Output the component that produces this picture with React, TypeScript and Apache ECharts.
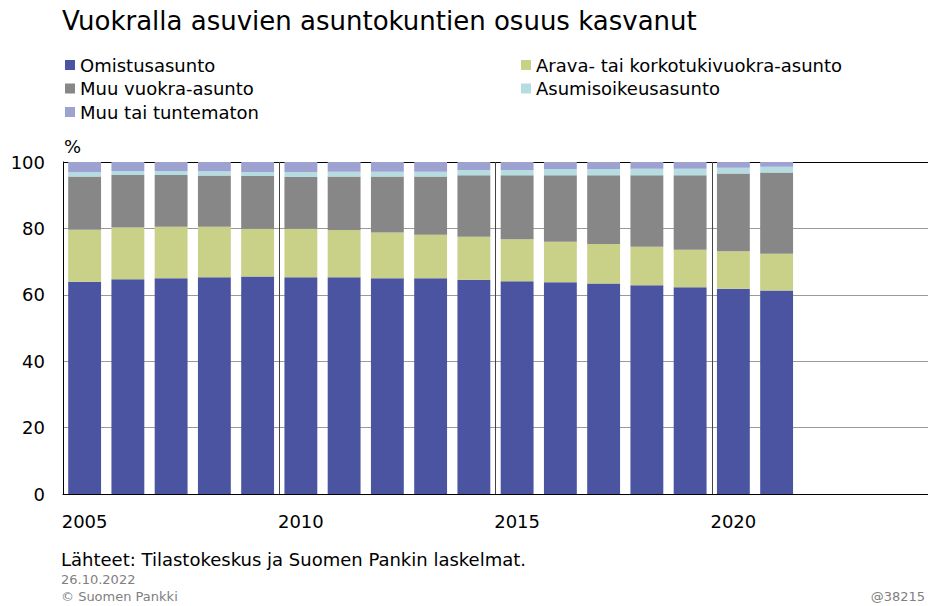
import React, { useEffect, useRef } from "react";
import * as echarts from "echarts";

const years = ["2005","2006","2007","2008","2009","2010","2011","2012","2013","2014","2015","2016","2017","2018","2019","2020","2021","2022","2023","2024"];
const omistus = [63.9, 64.7, 65.0, 65.3, 65.5, 65.3, 65.3, 65.0, 65.0, 64.5, 64.1, 63.8, 63.4, 62.9, 62.3, 61.8, 61.3];
const arava = [15.7, 15.6, 15.5, 15.2, 14.4, 14.6, 14.2, 13.8, 13.1, 13.0, 12.6, 12.2, 11.9, 11.6, 11.3, 11.3, 11.1];
const muuVuokra = [16.0, 15.8, 15.6, 15.4, 15.9, 15.6, 16.1, 16.8, 17.5, 18.5, 19.3, 20.0, 20.7, 21.5, 22.4, 23.4, 24.4];
const asumisoikeus = [1.3, 1.2, 1.2, 1.3, 1.2, 1.5, 1.5, 1.5, 1.5, 1.6, 1.6, 1.9, 1.9, 2.0, 2.0, 1.8, 1.8];
const muuTai = [3.1, 2.7, 2.7, 2.8, 3.0, 3.0, 2.9, 2.9, 2.9, 2.4, 2.4, 2.1, 2.1, 2.0, 2.0, 1.7, 1.4];
const yTicks = [0, 20, 40, 60, 80, 100];

const seriesNames = ["Omistusasunto", "Arava- tai korkotukivuokra-asunto", "Muu vuokra-asunto", "Asumisoikeusasunto", "Muu tai tuntematon"];
const seriesData = [omistus, arava, muuVuokra, asumisoikeus, muuTai];
const colors = ["#4B54A0", "#C8D187", "#878787", "#B5DDE1", "#9DA2D1"];

const FONT = "DejaVu Sans, Liberation Sans, sans-serif";

export default function App() {
  const ref = useRef<HTMLDivElement>(null);
  useEffect(() => {
    if (!ref.current) return;
    const chart = echarts.init(ref.current, null, { renderer: "svg" });
    const legendText = { fontSize: 18, color: "#000", fontFamily: FONT, lineHeight: 20 };
    chart.setOption({
      animation: false,
      textStyle: { fontFamily: FONT },
      color: colors,
      grid: { left: 63, right: 0, top: 162, bottom: 112, containLabel: false },
      legend: [
        {
          left: 65, top: 55, padding: 0, orient: "vertical", itemWidth: 10, itemHeight: 10, itemGap: 3.5,
          icon: "rect", textStyle: legendText, selectedMode: false,
          data: [seriesNames[0], seriesNames[2], seriesNames[4]],
        },
        {
          left: 521, top: 55, padding: 0, orient: "vertical", itemWidth: 10, itemHeight: 10, itemGap: 3.5,
          icon: "rect", textStyle: legendText, selectedMode: false,
          data: [seriesNames[1], seriesNames[3]],
        },
      ],
      xAxis: {
        type: "category",
        data: years,
        boundaryGap: true,
        axisLine: { show: true, lineStyle: { color: "#000", width: 1 } },
        axisTick: { show: false },
        axisLabel: { interval: 4, fontSize: 18, color: "#000", margin: 18, fontFamily: FONT },
        splitLine: { show: true, interval: 4, lineStyle: { color: "#444", width: 1 } },
      },
      yAxis: {
        type: "value",
        min: 0,
        max: 100,
        interval: 20,
        axisLine: { show: true, lineStyle: { color: "#000", width: 1 } },
        axisTick: { show: false },
        axisLabel: { fontSize: 18, color: "#000", margin: 18, fontFamily: FONT,
          formatter: (v: number) => (yTicks.includes(v) ? String(v) : "") },
        splitLine: { show: true, lineStyle: { color: ["#000", "#9a9a9a", "#9a9a9a", "#9a9a9a", "#9a9a9a", "#000"], width: 1 } },
      },
      series: seriesNames.map((name, i) => ({
        name,
        type: "bar",
        stack: "total",
        data: seriesData[i],
        barCategoryGap: "24%",
        itemStyle: { color: colors[i] },
      })),
      graphic: [
        { type: "text", left: 62, top: 8, style: { text: "Vuokralla asuvien asuntokuntien osuus kasvanut", fontSize: 26, fill: "#000", fontFamily: FONT } },
        { type: "text", left: 64, top: 137, style: { text: "%", fontSize: 18, fill: "#000", fontFamily: FONT } },
        { type: "text", left: 61, top: 550, style: { text: "Lähteet: Tilastokeskus ja Suomen Pankin laskelmat.", fontSize: 18, fill: "#000", fontFamily: FONT } },
        { type: "text", left: 61, top: 573, style: { text: "26.10.2022", fontSize: 13, fill: "#808080", fontFamily: FONT } },
        { type: "text", left: 61, top: 590, style: { text: "© Suomen Pankki", fontSize: 13, fill: "#808080", fontFamily: FONT } },
        { type: "text", right: 3, top: 590, style: { text: "@38215", fontSize: 13, fill: "#808080", fontFamily: FONT } },
      ],
    });
    return () => chart.dispose();
  }, []);
  return <div ref={ref} style={{ width: 928, height: 606, position: "absolute", left: 0, top: 0 }} />;
}
